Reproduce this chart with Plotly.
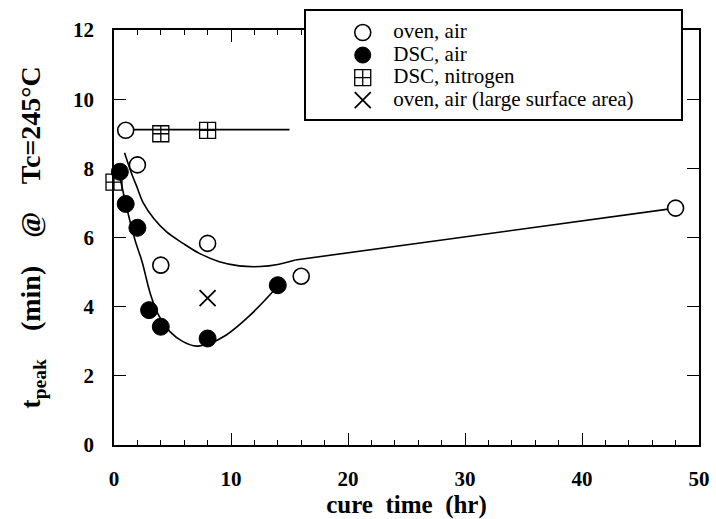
import plotly.graph_objects as go

# ---- data ----
oven_air_x = [1, 2, 4, 8, 16, 48]
oven_air_y = [9.1, 8.1, 5.2, 5.83, 4.88, 6.85]

dsc_air_x = [0.5, 1, 2, 3, 4, 8, 14]
dsc_air_y = [7.9, 6.97, 6.28, 3.9, 3.42, 3.08, 4.62]

dsc_n2_x = [0, 4, 8]
dsc_n2_y = [7.6, 9.0, 9.1]

oven_large_x = [8]
oven_large_y = [4.25]

# fitted guide curves drawn in the figure
n2_fit_x = [1, 15]
n2_fit_y = [9.12, 9.12]

oven_fit_x = [0.9, 1.5, 1.95, 2.5, 3.4, 4.5, 5.9, 7.3, 9.0, 10.7, 12.5, 14.0, 15.5]
oven_fit_y = [8.45, 7.85, 7.47, 7.0, 6.55, 6.16, 5.83, 5.54, 5.30, 5.18, 5.16, 5.22, 5.35]

oven_lin_x = [15.5, 48]
oven_lin_y = [5.35, 6.85]

dsc_fit_x = [0.5, 1.2, 1.8, 2.4, 3.1, 3.8, 4.8, 5.9, 7.06, 8.2, 9.6, 11.5, 13.7, 14.0]
dsc_fit_y = [7.75, 6.7, 5.92, 5.3, 4.38, 3.76, 3.27, 2.99, 2.86, 2.94, 3.18, 3.71, 4.48, 4.6]

x_ticks = [0, 10, 20, 30, 40, 50]
y_ticks = [0, 2, 4, 6, 8, 10, 12]

FONT = "Liberation Serif"
LEG = '<span style="font-size:21px">  {}</span>'

fig = go.Figure()

line_style = dict(color="black", width=1.6)
for fx, fy, shp in [(n2_fit_x, n2_fit_y, "linear"), (oven_fit_x, oven_fit_y, "spline"),
                    (oven_lin_x, oven_lin_y, "linear"), (dsc_fit_x, dsc_fit_y, "spline")]:
    fig.add_trace(go.Scatter(x=fx, y=fy, mode="lines", line=dict(shape=shp, **line_style),
                             showlegend=False, hoverinfo="skip"))

fig.add_trace(go.Scatter(x=oven_air_x, y=oven_air_y, mode="markers", name=LEG.format("oven, air"),
                         marker=dict(symbol="circle", size=16, color="white",
                                     line=dict(color="black", width=1.6)), cliponaxis=False))
fig.add_trace(go.Scatter(x=dsc_air_x, y=dsc_air_y, mode="markers", name=LEG.format("DSC, air"),
                         marker=dict(symbol="circle", size=17, color="black",
                                     line=dict(color="black", width=1)), cliponaxis=False))
fig.add_trace(go.Scatter(x=dsc_n2_x, y=dsc_n2_y, mode="markers", name=LEG.format("DSC, nitrogen"),
                         marker=dict(symbol="square-cross-open", size=16, color="black",
                                     line=dict(color="black", width=1.3)), cliponaxis=False))
fig.add_trace(go.Scatter(x=oven_large_x, y=oven_large_y, mode="markers",
                         name=LEG.format("oven, air (large surface area)"),
                         marker=dict(symbol="x-thin-open", size=16, color="black",
                                     line=dict(color="black", width=1.8)), cliponaxis=False))

axis_common = dict(
    showline=True, linecolor="black", linewidth=1.6, mirror="allticks",
    ticks="inside", ticklen=12, tickwidth=1.4, tickcolor="black",
    showgrid=False, zeroline=False, automargin=False,
    tickfont=dict(family=FONT, size=21, color="black", weight="bold"),
)

fig.update_xaxes(range=[0, 50], tickvals=x_ticks, ticklabelstandoff=14,
                 minor=dict(dtick=2, ticks="inside", ticklen=5, tickwidth=1.2, tickcolor="black"),
                 title=dict(text="cure  time  (hr)", standoff=3,
                            font=dict(family=FONT, size=25, color="black", weight="bold")),
                 **axis_common)
fig.update_yaxes(range=[0, 12], tickvals=y_ticks, ticklabelstandoff=14,
                 title=dict(text="t<sub>peak</sub>    (min)    @    Tc=245°C", standoff=24,
                            font=dict(family=FONT, size=28, color="black", weight="bold")),
                 **axis_common)

# legend frame (drawn over the plot frame, like the original)
fig.add_shape(type="rect", xref="paper", yref="paper",
              x0=0.3265, x1=0.9709, y0=0.7831, y1=1.0482,
              line=dict(color="black", width=2), fillcolor="white", layer="above")

fig.update_layout(
    width=716, height=519,
    margin=dict(l=114, r=17, t=30, b=74),
    paper_bgcolor="white", plot_bgcolor="white",
    font=dict(family=FONT, color="black"),
    showlegend=True,
    legend=dict(x=0.391, y=1.033, xanchor="left", yanchor="top",
                bgcolor="rgba(0,0,0,0)", borderwidth=0,
                font=dict(family=FONT, size=15, color="black"), tracegroupgap=0),
)

fig.write_html("out.html")
